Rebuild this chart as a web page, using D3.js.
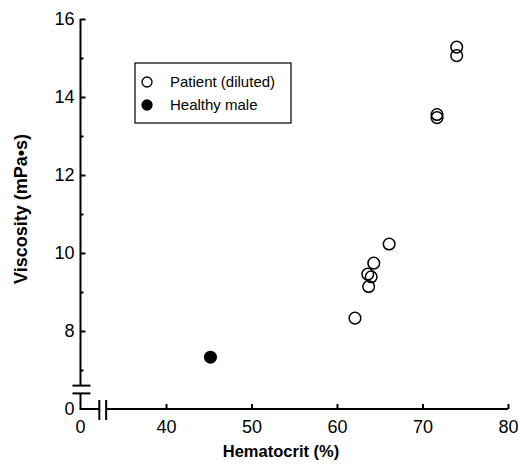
<!DOCTYPE html>
<html>
<head>
<meta charset="utf-8">
<script src="https://cdn.jsdelivr.net/npm/d3@7"></script>
<style>
    body { margin: 0; background: #fff; }
    svg { font-family: "Liberation Sans", Arial, Helvetica, sans-serif; }
</style>
</head>
<body>
<div id="chart"></div>
<script>
// data
var patientHct = [74.0, 74.0, 71.7, 71.7, 66.1, 64.3, 63.6, 64.0, 63.7, 62.1];
var patientVisc = [15.28, 15.06, 13.55, 13.47, 10.23, 9.74, 9.46, 9.39, 9.14, 8.33];
var healthyHct = [45.2];
var healthyVisc = [7.33];
var xTicks = [40, 50, 60, 70, 80];
var yTicks = [8, 10, 12, 14, 16];
var yMinorTicks = [7, 9, 11, 13, 15];
var legendLabels = ["Patient (diluted)", "Healthy male"];

var W = 518, H = 469;

var svg = d3.select("#chart")
    .append("svg")
    .attr("width", W)
    .attr("height", H);

// scales (upper part of the broken axes)
var x = d3.scaleLinear().domain([40, 80]).range([166, 508]);
var y = d3.scaleLinear().domain([7, 16]).range([370, 19]);

var x0 = x(30),   // where the y axis sits, labelled 0
    y0 = y(6);    // where the x axis sits, labelled 0

// y axis
var yAxis = svg.append("g")
    .attr("transform", "translate(" + x0 + ",0)")
    .call(d3.axisLeft(y).tickValues(yTicks).tickSize(-5).tickPadding(6));
yAxis.select(".domain").remove();
yAxis.selectAll("text").style("font-size", "18px").attr("fill", "#000");
yAxis.selectAll("line").attr("stroke-width", 2);

svg.append("g")
    .attr("transform", "translate(" + x0 + ",0)")
    .call(d3.axisLeft(y).tickValues(yMinorTicks).tickSize(-3).tickFormat(""))
    .call(g => g.select(".domain").remove())
    .selectAll("line").attr("stroke-width", 2);

// x axis
var xAxis = svg.append("g")
    .attr("transform", "translate(0," + y0 + ")")
    .call(d3.axisBottom(x).tickValues(xTicks).tickSize(-5).tickPadding(11));
xAxis.select(".domain").remove();
xAxis.selectAll("text").style("font-size", "18px").attr("fill", "#000");
xAxis.selectAll("line").attr("stroke-width", 2);

// axis lines with breaks
var axisLines = [
    [[x0, y(16)], [x0, y(6.6)]],
    [[x0, y(6.4)], [x0, y0], [x(32.2), y0]],
    [[x(33), y0], [x(80), y0]],
    // break marks
    [[x0 - 8, y(6.6)], [x0 + 10, y(6.6)]],
    [[x0 - 8, y(6.4)], [x0 + 10, y(6.4)]],
    [[x(32.2), y0 - 9], [x(32.2), y0 + 11]],
    [[x(33), y0 - 9], [x(33), y0 + 11]]
];
svg.append("g")
    .selectAll("path")
    .data(axisLines)
    .enter()
    .append("path")
    .attr("d", d3.line())
    .attr("fill", "none")
    .attr("stroke", "#000")
    .attr("stroke-width", 2);

// zero labels
svg.append("text")
    .attr("x", x0 - 6)
    .attr("y", y0)
    .attr("dy", "0.32em")
    .attr("text-anchor", "end")
    .style("font-size", "18px")
    .text("0");
svg.append("text")
    .attr("x", x0)
    .attr("y", y0 + 11)
    .attr("dy", "0.71em")
    .attr("text-anchor", "middle")
    .style("font-size", "18px")
    .text("0");

// axis titles
svg.append("text")
    .attr("x", 281)
    .attr("y", 457)
    .attr("text-anchor", "middle")
    .style("font-size", "16.5px")
    .style("font-weight", "bold")
    .text("Hematocrit (%)");

svg.append("text")
    .attr("transform", "translate(27,209) rotate(-90)")
    .attr("text-anchor", "middle")
    .style("font-size", "18px")
    .style("font-weight", "bold")
    .text("Viscosity (mPa\u2022s)");

// points
var patients = patientHct.map(function (d, i) { return { x: d, y: patientVisc[i] }; });
var healthy = healthyHct.map(function (d, i) { return { x: d, y: healthyVisc[i] }; });

svg.append("g")
    .selectAll("circle")
    .data(patients)
    .enter()
    .append("circle")
    .attr("cx", d => x(d.x))
    .attr("cy", d => y(d.y))
    .attr("r", 5.8)
    .attr("fill", "none")
    .attr("stroke", "#000")
    .attr("stroke-width", 1.5);

svg.append("g")
    .selectAll("circle")
    .data(healthy)
    .enter()
    .append("circle")
    .attr("cx", d => x(d.x))
    .attr("cy", d => y(d.y))
    .attr("r", 6.5)
    .attr("fill", "#000");

// legend
var legend = svg.append("g").attr("transform", "translate(135,63)");
legend.append("rect")
    .attr("width", 156)
    .attr("height", 60)
    .attr("fill", "#fff")
    .attr("stroke", "#000")
    .attr("stroke-width", 1.2);
legend.selectAll("circle")
    .data(legendLabels)
    .enter()
    .append("circle")
    .attr("cx", 12)
    .attr("cy", (d, i) => 19 + i * 23)
    .attr("r", 5)
    .attr("fill", (d, i) => i === 0 ? "#fff" : "#000")
    .attr("stroke", "#000")
    .attr("stroke-width", 1.3);
legend.selectAll("text")
    .data(legendLabels)
    .enter()
    .append("text")
    .attr("x", 35)
    .attr("y", (d, i) => 19 + i * 23)
    .attr("dy", "0.35em")
    .style("font-size", "15px")
    .text(d => d);
</script>
</body>
</html>
